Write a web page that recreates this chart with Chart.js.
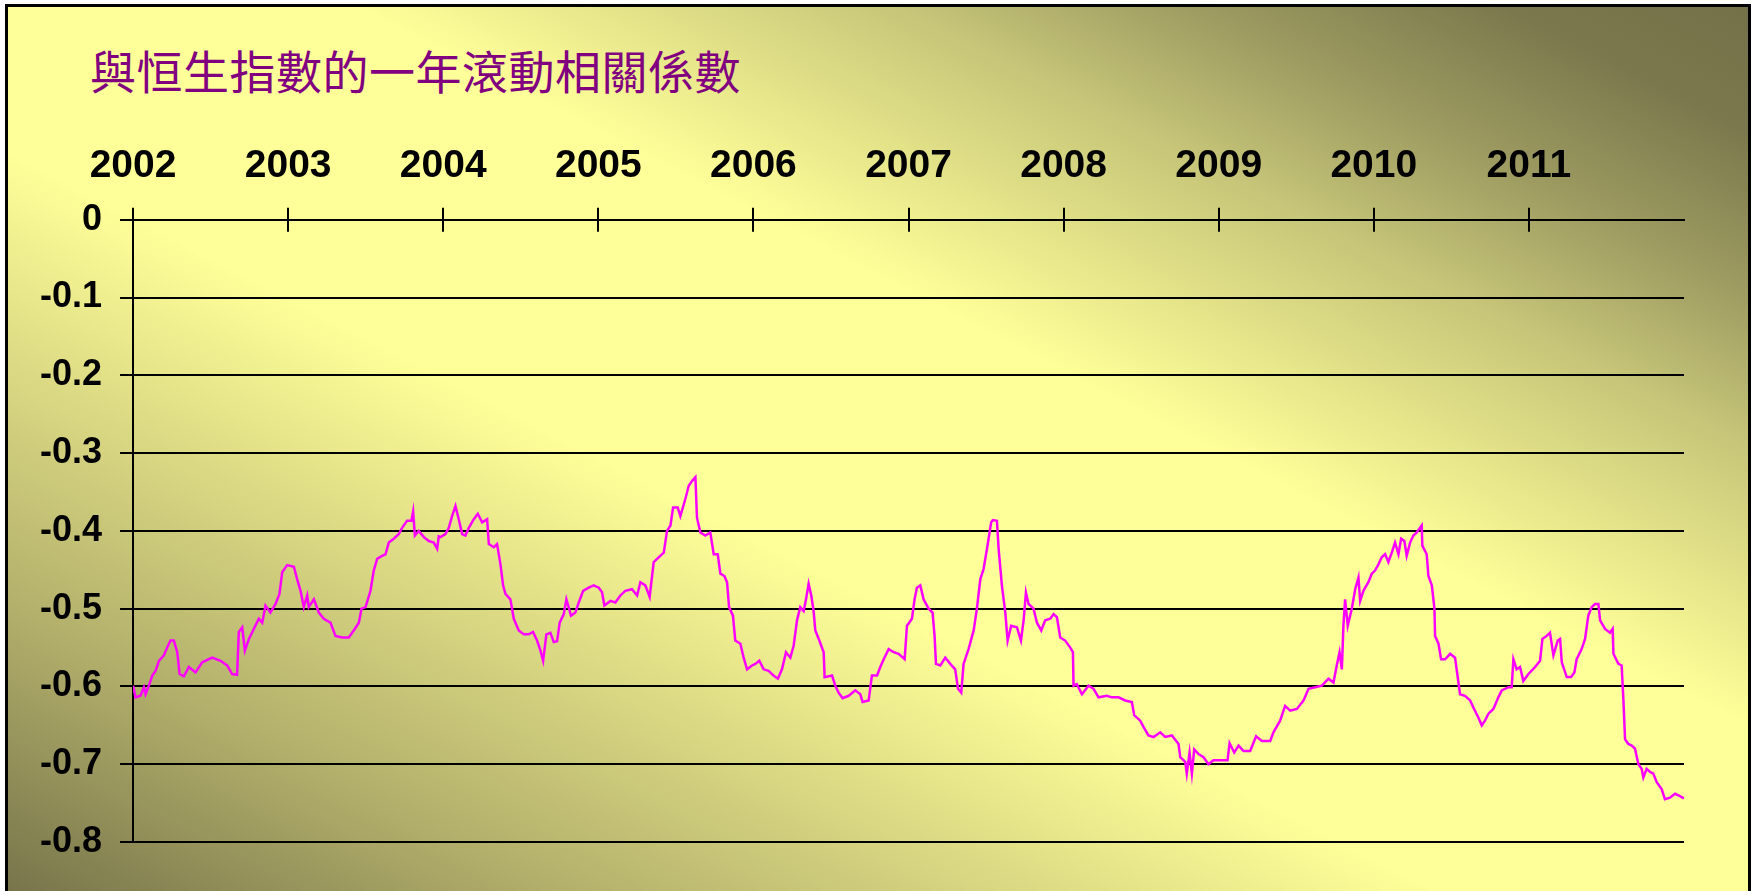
<!DOCTYPE html>
<html>
<head>
<meta charset="utf-8">
<title>與恒生指數的一年滾動相關係數</title>
<script src="https://cdn.jsdelivr.net/npm/chart.js@4.4.0/dist/chart.umd.min.js"></script>
<style>
  html, body { margin: 0; padding: 0; background: #fff; overflow: hidden; }
  #frame {
    position: absolute; left: 5px; top: 4px; width: 1740px; height: 900px;
    border: 3px solid #000;
    background: linear-gradient(to top right,
      #747149 0%, #b0ad6a 16%, #ffff99 42%, #ffff99 60%,
      #c7c679 75.5%, #9e9c61 84%, #7b784d 93%, #747149 100%);
  }
  #title {
    position: absolute; left: 90px; top: 46px;
    font-family: "Noto Sans CJK TC", sans-serif; font-size: 46px; line-height: 46px;
    letter-spacing: 0.5px; color: #800080; white-space: nowrap;
  }
  #wrap { position: absolute; left: 0; top: 0; width: 1758px; height: 891px; }
</style>
</head>
<body>
<div id="frame"></div>
<div id="title">與恒生指數的一年滾動相關係數</div>
<div id="wrap"><canvas id="chart"></canvas></div>
<script>
// rolling one-year correlation with the Hang Seng index
// dates are decimal years
var dates = [
  2002.000, 2002.016, 2002.048, 2002.070, 2002.081, 2002.102, 2002.124, 2002.145, 2002.167, 2002.199,
  2002.220, 2002.242, 2002.263, 2002.285, 2002.300, 2002.328, 2002.360, 2002.403, 2002.446, 2002.510,
  2002.564, 2002.607, 2002.639, 2002.671, 2002.682, 2002.704, 2002.721, 2002.747, 2002.779, 2002.811,
  2002.833, 2002.854, 2002.886, 2002.919, 2002.944, 2002.962, 2002.994, 2003.037, 2003.058, 2003.080,
  2003.101, 2003.123, 2003.133, 2003.166, 2003.198, 2003.230, 2003.273, 2003.305, 2003.348, 2003.391,
  2003.423, 2003.456, 2003.473, 2003.499, 2003.531, 2003.552, 2003.574, 2003.606, 2003.628, 2003.649,
  2003.681, 2003.714, 2003.735, 2003.767, 2003.795, 2003.806, 2003.817, 2003.842, 2003.875, 2003.907,
  2003.939, 2003.961, 2003.971,
  2003.982, 2004.014, 2004.036, 2004.057, 2004.079, 2004.100, 2004.122, 2004.143, 2004.165, 2004.197,
  2004.223, 2004.251, 2004.283, 2004.294, 2004.326, 2004.347, 2004.369, 2004.386, 2004.401, 2004.433,
  2004.455, 2004.487, 2004.519, 2004.551, 2004.579, 2004.605, 2004.627, 2004.644, 2004.665, 2004.691,
  2004.713, 2004.734, 2004.751, 2004.777, 2004.794, 2004.824, 2004.852, 2004.874, 2004.902, 2004.938,
  2004.970, 2005.003, 2005.024, 2005.039, 2005.078, 2005.110, 2005.142, 2005.174, 2005.217, 2005.250,
  2005.271, 2005.303, 2005.331, 2005.357, 2005.389, 2005.422, 2005.443, 2005.465, 2005.482, 2005.512,
  2005.529, 2005.561, 2005.583, 2005.604, 2005.626, 2005.636, 2005.658, 2005.690, 2005.722, 2005.744,
  2005.770, 2005.787, 2005.813, 2005.830, 2005.843, 2005.868, 2005.883, 2005.916, 2005.937, 2005.959,
  2005.991,
  2006.012, 2006.038, 2006.066, 2006.098, 2006.130, 2006.158, 2006.184, 2006.210, 2006.238, 2006.259,
  2006.281, 2006.302, 2006.324, 2006.339, 2006.356, 2006.373, 2006.388, 2006.399, 2006.425, 2006.453,
  2006.459, 2006.507, 2006.528, 2006.549, 2006.575, 2006.614, 2006.657, 2006.689, 2006.704, 2006.743,
  2006.764, 2006.797, 2006.818, 2006.840, 2006.872, 2006.904, 2006.936, 2006.975, 2006.990, 2007.022,
  2007.039, 2007.054, 2007.076, 2007.097, 2007.130, 2007.155, 2007.168, 2007.177, 2007.205, 2007.237,
  2007.269, 2007.301, 2007.319, 2007.340, 2007.355, 2007.387, 2007.420, 2007.441, 2007.463, 2007.484,
  2007.506, 2007.533, 2007.544, 2007.570, 2007.581, 2007.602, 2007.624, 2007.639, 2007.662, 2007.699,
  2007.725, 2007.742, 2007.757, 2007.774, 2007.806, 2007.828, 2007.856, 2007.881, 2007.914, 2007.935,
  2007.957, 2007.978, 2008.010,
  2008.043, 2008.060, 2008.064, 2008.085, 2008.118, 2008.161, 2008.193, 2008.225, 2008.279, 2008.311,
  2008.354, 2008.397, 2008.440, 2008.455, 2008.494, 2008.515, 2008.547, 2008.580, 2008.623, 2008.655,
  2008.698, 2008.726, 2008.741, 2008.752, 2008.784, 2008.794, 2008.812, 2008.827, 2008.842, 2008.870,
  2008.902, 2008.934, 2008.966, 2009.020, 2009.057, 2009.070, 2009.100, 2009.128, 2009.160, 2009.203,
  2009.241, 2009.278, 2009.332, 2009.353, 2009.396, 2009.428, 2009.461, 2009.504, 2009.547, 2009.579,
  2009.622, 2009.665, 2009.708, 2009.740, 2009.761, 2009.779, 2009.794, 2009.804, 2009.815, 2009.832,
  2009.858, 2009.880, 2009.901, 2009.912, 2009.933, 2009.965, 2009.987, 2010.008, 2010.030, 2010.051,
  2010.073, 2010.094, 2010.116, 2010.137, 2010.159, 2010.176, 2010.197, 2010.212, 2010.234, 2010.255,
  2010.277, 2010.298, 2010.309, 2010.313, 2010.341, 2010.352, 2010.374, 2010.391, 2010.395, 2010.417,
  2010.434, 2010.460, 2010.492, 2010.524, 2010.541, 2010.556, 2010.588, 2010.621, 2010.642, 2010.674,
  2010.696, 2010.717, 2010.739, 2010.771, 2010.803, 2010.825, 2010.868, 2010.889, 2010.900, 2010.921,
  2010.943, 2010.964, 2010.997, 2011.040, 2011.072, 2011.087, 2011.115, 2011.136, 2011.158, 2011.186,
  2011.201, 2011.212, 2011.244, 2011.272, 2011.293, 2011.308, 2011.340, 2011.362, 2011.383, 2011.405,
  2011.426, 2011.448, 2011.459, 2011.491, 2011.523, 2011.540, 2011.545, 2011.577, 2011.598, 2011.609,
  2011.620, 2011.641, 2011.663, 2011.684, 2011.706, 2011.727, 2011.738, 2011.759, 2011.781, 2011.802,
  2011.824, 2011.856, 2011.877, 2011.910, 2011.942, 2011.974, 2012.000
]

var corr = [
  -0.599, -0.614, -0.612, -0.601, -0.610, -0.599, -0.586, -0.580, -0.567, -0.560,
  -0.550, -0.541, -0.541, -0.556, -0.584, -0.587, -0.575, -0.582, -0.569, -0.563,
  -0.567, -0.573, -0.584, -0.585, -0.530, -0.524, -0.554, -0.539, -0.526, -0.513,
  -0.518, -0.496, -0.505, -0.494, -0.481, -0.453, -0.444, -0.446, -0.462, -0.477,
  -0.498, -0.483, -0.498, -0.488, -0.505, -0.513, -0.518, -0.535, -0.537, -0.537,
  -0.528, -0.518, -0.500, -0.498, -0.477, -0.451, -0.436, -0.432, -0.430, -0.415,
  -0.410, -0.404, -0.396, -0.387, -0.387, -0.375, -0.406, -0.400, -0.408, -0.413,
  -0.415, -0.423, -0.407,
  -0.408, -0.404, -0.396, -0.381, -0.368, -0.385, -0.404, -0.406, -0.396, -0.385,
  -0.378, -0.389, -0.385, -0.417, -0.421, -0.417, -0.443, -0.470, -0.481, -0.488,
  -0.513, -0.528, -0.533, -0.533, -0.530, -0.541, -0.554, -0.567, -0.533, -0.531,
  -0.543, -0.542, -0.518, -0.507, -0.488, -0.509, -0.505, -0.492, -0.477, -0.473,
  -0.470, -0.473, -0.479, -0.496, -0.490, -0.492, -0.483, -0.477, -0.475, -0.483,
  -0.466, -0.470, -0.485, -0.440, -0.434, -0.428, -0.400, -0.393, -0.370, -0.370,
  -0.381, -0.359, -0.342, -0.336, -0.331, -0.383, -0.402, -0.406, -0.402, -0.430,
  -0.430, -0.455, -0.458, -0.466, -0.498, -0.509, -0.541, -0.545, -0.563, -0.578,
  -0.573,
  -0.571, -0.567, -0.578, -0.580, -0.586, -0.590, -0.578, -0.556, -0.563, -0.548,
  -0.515, -0.498, -0.503, -0.488, -0.468, -0.483, -0.503, -0.528, -0.541, -0.556,
  -0.588, -0.586, -0.599, -0.608, -0.615, -0.612, -0.605, -0.610, -0.620, -0.618,
  -0.586, -0.586, -0.575, -0.565, -0.552, -0.556, -0.558, -0.565, -0.522, -0.513,
  -0.488, -0.473, -0.470, -0.488, -0.500, -0.505, -0.535, -0.571, -0.573, -0.563,
  -0.571, -0.578, -0.603, -0.608, -0.571, -0.552, -0.528, -0.500, -0.462, -0.449,
  -0.423, -0.389, -0.386, -0.387, -0.423, -0.470, -0.505, -0.541, -0.522, -0.524,
  -0.541, -0.515, -0.479, -0.494, -0.500, -0.518, -0.528, -0.515, -0.513, -0.507,
  -0.511, -0.537, -0.541,
  -0.550, -0.556, -0.599, -0.597, -0.610, -0.599, -0.603, -0.614, -0.612, -0.614,
  -0.614, -0.618, -0.620, -0.637, -0.644, -0.652, -0.663, -0.665, -0.659, -0.665,
  -0.663, -0.670, -0.674, -0.691, -0.697, -0.712, -0.685, -0.712, -0.681, -0.687,
  -0.691, -0.700, -0.695, -0.695, -0.695, -0.673, -0.685, -0.676, -0.683, -0.683,
  -0.664, -0.670, -0.670, -0.659, -0.644, -0.625, -0.631, -0.629, -0.618, -0.603,
  -0.601, -0.599, -0.590, -0.595, -0.573, -0.556, -0.578, -0.522, -0.488, -0.522,
  -0.500, -0.475, -0.460, -0.490, -0.477, -0.466, -0.455, -0.451, -0.443, -0.434,
  -0.430, -0.440, -0.428, -0.415, -0.430, -0.410, -0.413, -0.432, -0.415, -0.406,
  -0.402, -0.396, -0.393, -0.419, -0.430, -0.458, -0.470, -0.500, -0.535, -0.545,
  -0.565, -0.565, -0.558, -0.563, -0.588, -0.610, -0.612, -0.618, -0.627, -0.640,
  -0.650, -0.644, -0.635, -0.629, -0.614, -0.605, -0.601, -0.601, -0.565, -0.578,
  -0.575, -0.593, -0.584, -0.575, -0.567, -0.539, -0.535, -0.531, -0.560, -0.541,
  -0.539, -0.569, -0.588, -0.588, -0.582, -0.565, -0.552, -0.539, -0.509, -0.498,
  -0.494, -0.494, -0.515, -0.526, -0.531, -0.526, -0.558, -0.571, -0.573, -0.616,
  -0.668, -0.674, -0.676, -0.680, -0.700, -0.706, -0.717, -0.706, -0.710, -0.712,
  -0.723, -0.732, -0.745, -0.743, -0.738, -0.741, -0.744
]

var firstYear = 2002
var lastYear = 2012
var yMin = -0.8
var yMax = 0

var tickFont = "'Liberation Sans', Arial, sans-serif"

// tick marks that cross the zero line below the axis too
var innerTicks = {
    id: 'innerTicks',
    afterDraw: function(chart) {
        var xs = chart.scales.x
        var ctx = chart.ctx
        var top = chart.chartArea.top
        ctx.save()
        ctx.strokeStyle = '#000'
        ctx.lineWidth = 2
        xs.ticks.forEach(function(t) {
            if(t.value >= lastYear) return
            var px = Math.round(xs.getPixelForValue(t.value))
            ctx.beginPath()
            ctx.moveTo(px, top)
            ctx.lineTo(px, top + 12)
            ctx.stroke()
        })
        ctx.restore()
    }
}

var ctx = document.getElementById('chart').getContext('2d')
var corrChart = new Chart(ctx, {
    type: 'line',
    data: {
        datasets: [{
            label: '與恒生指數的一年滾動相關係數',
            data: dates.map(function(d, i) { return {x: d, y: corr[i]} }),
            borderColor: '#ff00ff',
            borderWidth: 2.5,
            pointRadius: 0,
            fill: false,
            tension: 0
        }]
    },
    options: {
        responsive: true,
        maintainAspectRatio: false,
        animation: false,
        layout: {
            padding: {left: 22, right: 74, top: 125, bottom: 49}
        },
        plugins: {
            legend: {display: false},
            tooltip: {enabled: false},
            title: {display: false}
        },
        scales: {
            x: {
                type: 'linear',
                position: 'top',
                min: firstYear,
                max: lastYear,
                ticks: {
                    stepSize: 1,
                    autoSkip: false,
                    maxRotation: 0,
                    padding: 18,
                    color: '#000',
                    font: {family: tickFont, size: 39, weight: 'bold'},
                    callback: function(v) { return v < lastYear ? String(v) : null }
                },
                grid: {drawOnChartArea: false, drawTicks: true, tickLength: 12, color: '#000', lineWidth: 2},
                border: {display: true, color: '#000', width: 2}
            },
            y: {
                min: yMin,
                max: yMax,
                ticks: {
                    stepSize: 0.1,
                    padding: 18,
                    color: '#000',
                    font: {family: tickFont, size: 36, weight: 'bold'},
                    callback: function(v) { return String(Math.round(v * 10) / 10) }
                },
                grid: {color: '#000', lineWidth: 2, tickLength: 13, drawTicks: true},
                border: {display: true, color: '#000', width: 2}
            }
        }
    },
    plugins: [innerTicks]
})
</script>
</body>
</html>
